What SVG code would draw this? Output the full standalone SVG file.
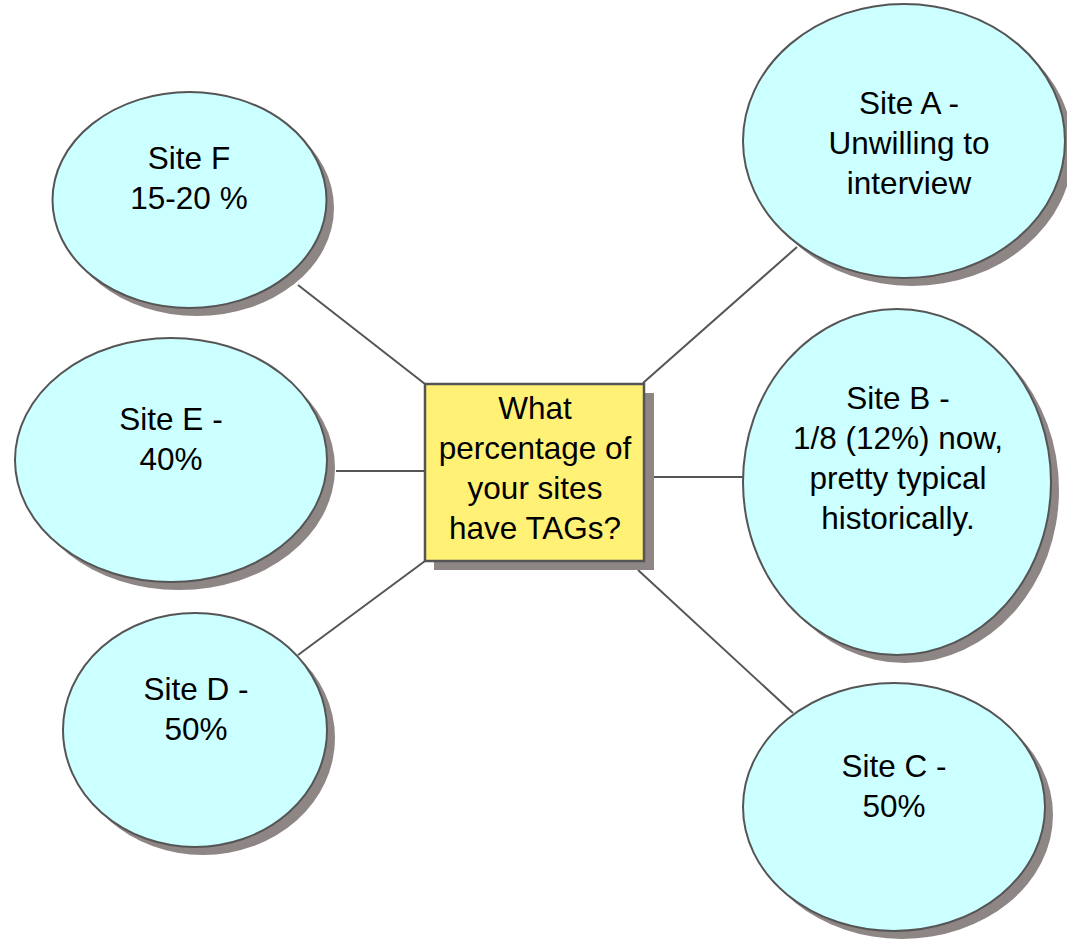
<svg xmlns="http://www.w3.org/2000/svg" width="1067" height="942" viewBox="0 0 1067 942">
  <style>
    .link { stroke: #555555; stroke-width: 2; fill: none; }
    .shadow { fill: #8E8585; stroke: none; }
    .bubble { fill: #CCFFFF; stroke: #555555; stroke-width: 2; }
    .topic { fill: #FFF176; stroke: #555555; stroke-width: 2.5; }
    text { font-family: "Liberation Sans", Arial, sans-serif; font-size: 31.5px; fill: #000000; text-anchor: middle; }
  </style>
  <rect width="1067" height="942" fill="#FFFFFF"/>

  <!-- connectors from the central question to each site -->
  <g id="connectors">
    <line class="link" x1="298" y1="285" x2="425" y2="384"/>
    <line class="link" x1="336" y1="471" x2="425" y2="471"/>
    <line class="link" x1="298" y1="655" x2="425" y2="561"/>
    <line class="link" x1="643" y1="383" x2="797" y2="247"/>
    <line class="link" x1="652" y1="477" x2="743" y2="477"/>
    <line class="link" x1="638" y1="570" x2="793" y2="713"/>
  </g>

  <g id="topic">
    <rect class="shadow" x="434" y="393" width="220" height="177"/>
    <rect class="topic" x="425" y="384" width="219" height="177"/>
    <text x="535" y="419">What</text>
    <text x="535" y="459">percentage of</text>
    <text x="535" y="499">your sites</text>
    <text x="535" y="539">have TAGs?</text>
  </g>

  <g id="site-f">
    <ellipse class="shadow" cx="197" cy="208" rx="137" ry="108"/>
    <ellipse class="bubble" cx="189.5" cy="200" rx="137" ry="108"/>
    <text x="189" y="169">Site F</text>
    <text x="189" y="209">15-20 %</text>
  </g>

  <g id="site-e">
    <ellipse class="shadow" cx="179" cy="468" rx="156" ry="122"/>
    <ellipse class="bubble" cx="171" cy="460" rx="156" ry="122"/>
    <text x="171" y="430">Site E -</text>
    <text x="171" y="470">40%</text>
  </g>

  <g id="site-d">
    <ellipse class="shadow" cx="203" cy="738" rx="132" ry="117"/>
    <ellipse class="bubble" cx="195" cy="730" rx="132" ry="117"/>
    <text x="196" y="700">Site D -</text>
    <text x="196" y="740">50%</text>
  </g>

  <g id="site-a">
    <ellipse class="shadow" cx="912" cy="149" rx="161" ry="137"/>
    <ellipse class="bubble" cx="904" cy="141" rx="161" ry="137"/>
    <text x="909" y="114">Site A -</text>
    <text x="909" y="154">Unwilling to</text>
    <text x="909" y="194">interview</text>
  </g>

  <g id="site-b">
    <ellipse class="shadow" cx="905" cy="490" rx="154" ry="173"/>
    <ellipse class="bubble" cx="897" cy="482" rx="154" ry="173"/>
    <text x="898" y="409">Site B -</text>
    <text x="898" y="449">1/8 (12%) now,</text>
    <text x="898" y="489">pretty typical</text>
    <text x="898" y="529">historically.</text>
  </g>

  <g id="site-c">
    <ellipse class="shadow" cx="902" cy="815" rx="151" ry="124"/>
    <ellipse class="bubble" cx="894" cy="807" rx="151" ry="124"/>
    <text x="894" y="777">Site C -</text>
    <text x="894" y="817">50%</text>
  </g>
</svg>
